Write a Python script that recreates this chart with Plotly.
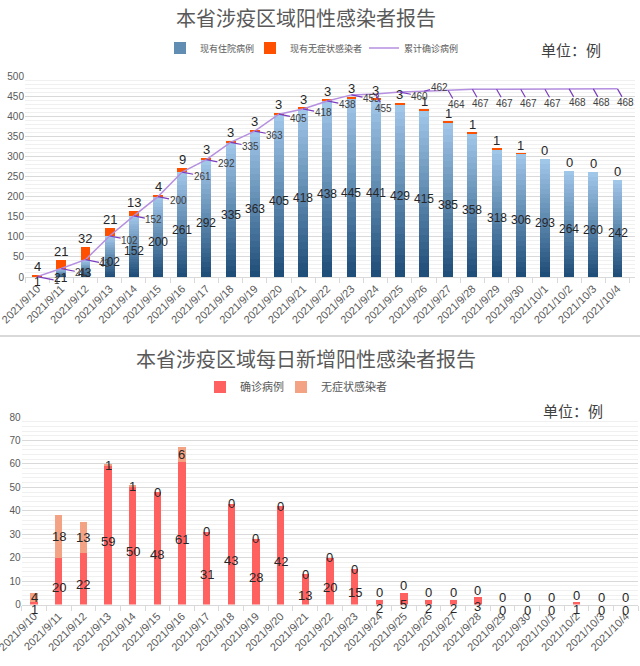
import plotly.graph_objects as go

dates = ["2021/9/10", "2021/9/11", "2021/9/12", "2021/9/13", "2021/9/14", "2021/9/15",
         "2021/9/16", "2021/9/17", "2021/9/18", "2021/9/19", "2021/9/20", "2021/9/21",
         "2021/9/22", "2021/9/23", "2021/9/24", "2021/9/25", "2021/9/26", "2021/9/27",
         "2021/9/28", "2021/9/29", "2021/9/30", "2021/10/1", "2021/10/2", "2021/10/3",
         "2021/10/4"]

# top chart
hospitalized = [1, 21, 43, 102, 152, 200, 261, 292, 335, 363, 405, 418, 438, 445, 441,
                429, 415, 385, 358, 318, 306, 293, 264, 260, 242]
asymptomatic_now = [4, 21, 32, 21, 13, 4, 9, 3, 3, 3, 3, 3, 3, 3, 3, 3, 1, 1, 1, 1, 1,
                    0, 0, 0, 0]
cumulative = [1, 21, 43, 102, 152, 200, 261, 292, 335, 363, 405, 418, 438, 453, 455,
              460, 462, 464, 467, 467, 467, 467, 468, 468, 468]

# bottom chart
new_confirmed = [1, 20, 22, 59, 50, 48, 61, 31, 43, 28, 42, 13, 20, 15, 2, 5, 2, 2, 3,
                 0, 0, 0, 1, 0, 0]
new_asymptomatic = [4, 18, 13, 1, 1, 0, 6, 0, 0, 0, 0, 0, 0, 0, 0, 0, 0, 0, 0, 0, 0, 0,
                    0, 0, 0]

W, H = 640, 666
FONT = "Noto Sans CJK SC, Noto Sans, sans-serif"
NUMFONT = "Liberation Sans, Arial, sans-serif"
GRAY = "#595959"

def px_x(p):
    return p / W

def px_y(p):
    return 1 - p / H

fig = go.Figure()

# gradient bars for hospitalized
N = 24
dark = (31, 78, 121)
light = (160, 198, 232)
for k in range(N):
    t = k / (N - 1)
    col = "rgb(%d,%d,%d)" % tuple(round(dark[i] + (light[i] - dark[i]) * t) for i in range(3))
    fig.add_trace(go.Bar(
        x=dates, y=[v / N for v in hospitalized], marker=dict(color=col, line=dict(width=0)),
        width=0.41, name="现有住院病例", showlegend=(k == N // 2),
        legend="legend", xaxis="x", yaxis="y", hoverinfo="skip"))

fig.add_trace(go.Bar(
    x=dates, y=asymptomatic_now, marker=dict(color="#FF5000", line=dict(width=0)),
    width=0.41, name="现有无症状感染者", legend="legend3",
    xaxis="x", yaxis="y"))

fig.add_trace(go.Scatter(
    x=dates, y=cumulative, mode="lines", line=dict(color="#B58FE0", width=1.5),
    name="累计确诊病例", legend="legend4", xaxis="x", yaxis="y"))

# bottom bars
fig.add_trace(go.Bar(
    x=dates, y=new_confirmed, marker=dict(color="#FF6161", line=dict(width=0)),
    width=0.3, name="确诊病例", legend="legend2", xaxis="x2", yaxis="y2"))
fig.add_trace(go.Bar(
    x=dates, y=new_asymptomatic, marker=dict(color="#F4A284", line=dict(width=0)),
    width=0.3, name="无症状感染者", legend="legend5", xaxis="x2", yaxis="y2"))

ann = []
# hospitalized labels
for d, v in zip(dates, hospitalized):
    ann.append(dict(x=d, y=v / 2, xref="x", yref="y", text=str(v), showarrow=False,
                    yshift=-5, font=dict(size=12, color="#262626", family=NUMFONT)))
# asymptomatic labels (top)
for d, v, a in zip(dates, hospitalized, asymptomatic_now):
    ann.append(dict(x=d, y=v + a, xref="x", yref="y", text=str(a), showarrow=False,
                    yanchor="bottom", yshift=-1, font=dict(size=13, color="#262626",
                                                            family=NUMFONT)))
# cumulative callouts
for i, (d, c) in enumerate(zip(dates, cumulative)):
    if i == 16:
        ax, ay = 15, -4
    elif i >= 17 or i == 14:
        ax, ay = 8, 14
    else:
        ax, ay = 20, 4
    ann.append(dict(x=d, y=c, xref="x", yref="y", text=str(c), showarrow=True,
                    arrowhead=0, arrowwidth=1.2, arrowcolor="#7A3DBF", ax=ax, ay=ay,
                    standoff=0, borderpad=0,
                    font=dict(size=10, color="#404040", family=NUMFONT)))
# bottom labels
for d, c, a in zip(dates, new_confirmed, new_asymptomatic):
    ann.append(dict(x=d, y=c / 2, xref="x2", yref="y2", text=str(c), showarrow=False,
                    yshift=-6, font=dict(size=13, color="#262626", family=NUMFONT)))
    ys = 7 if (a == 0 and c < 10) else 0
    ann.append(dict(x=d, y=c + a / 2, xref="x2", yref="y2", text=str(a), showarrow=False,
                    yshift=ys, font=dict(size=13, color="#262626", family=NUMFONT)))

# titles and units
def paper_text(x, y, text, size, color):
    return dict(x=px_x(x), y=px_y(y), xref="paper", yref="paper", text=text,
                showarrow=False, xanchor="center", yanchor="middle",
                font=dict(size=size, color=color))

ann.append(paper_text(306, 18, "本省涉疫区域阳性感染者报告", 20, GRAY))
ann.append(paper_text(306, 358, "本省涉疫区域每日新增阳性感染者报告", 20, GRAY))
ann.append(paper_text(571, 50, "单位：例", 15, "#404040"))
ann.append(paper_text(573, 410, "单位：例", 15, "#404040"))

xaxis_common = dict(type="category", tickangle=-45,
                    tickfont=dict(size=11, color=GRAY, family=NUMFONT),
                    showline=True, linecolor="#D9D9D9", ticks="outside",
                    tickson="boundaries", ticklen=5, tickcolor="#D9D9D9",
                    showgrid=False, categoryorder="array", categoryarray=dates,
                    automargin=False)
yaxis_common = dict(showgrid=True, gridcolor="#D9D9D9", zeroline=False,
                    tickfont=dict(size=10, color=GRAY, family=NUMFONT), showline=False,
                    ticks="", automargin=False)

def legend_at(x, y, size):
    return dict(orientation="h", x=px_x(x), y=px_y(y), xanchor="left", yanchor="middle",
                font=dict(size=size, color=GRAY), itemwidth=30, bgcolor="rgba(0,0,0,0)",
                borderwidth=0)

fig.update_layout(
    width=W, height=H, margin=dict(l=0, r=0, t=0, b=0, autoexpand=False),
    paper_bgcolor="white", plot_bgcolor="white",
    font=dict(family=FONT, color=GRAY),
    barmode="stack", bargap=0.5,
    xaxis=dict(domain=[px_x(25), px_x(635)], anchor="y", **xaxis_common),
    yaxis=dict(domain=[px_y(277), px_y(76)], anchor="x", range=[0, 500], dtick=50,
               minor=dict(dtick=10, showgrid=True, gridcolor="#F0F0F0"), **yaxis_common),
    xaxis2=dict(domain=[px_x(21.7), px_x(638.2)], anchor="y2", **xaxis_common),
    yaxis2=dict(domain=[px_y(604.5), px_y(417)], anchor="x2", range=[0, 80], dtick=10,
                minor=dict(dtick=2, showgrid=True, gridcolor="#F0F0F0"), **yaxis_common),
    legend=legend_at(160, 48, 9),
    legend3=legend_at(250, 48, 9),
    legend4=legend_at(364, 48, 9),
    legend2=legend_at(200, 387, 11),
    legend5=legend_at(281, 387, 11),
    annotations=ann,
    shapes=[dict(type="line", xref="paper", yref="paper", x0=0, x1=1,
                 y0=px_y(336), y1=px_y(336), line=dict(color="#D9D9D9", width=2))],
    showlegend=True,
)

fig.write_html("out.html", config={"displayModeBar": False},
               post_script="document.body.style.margin='0px';")
